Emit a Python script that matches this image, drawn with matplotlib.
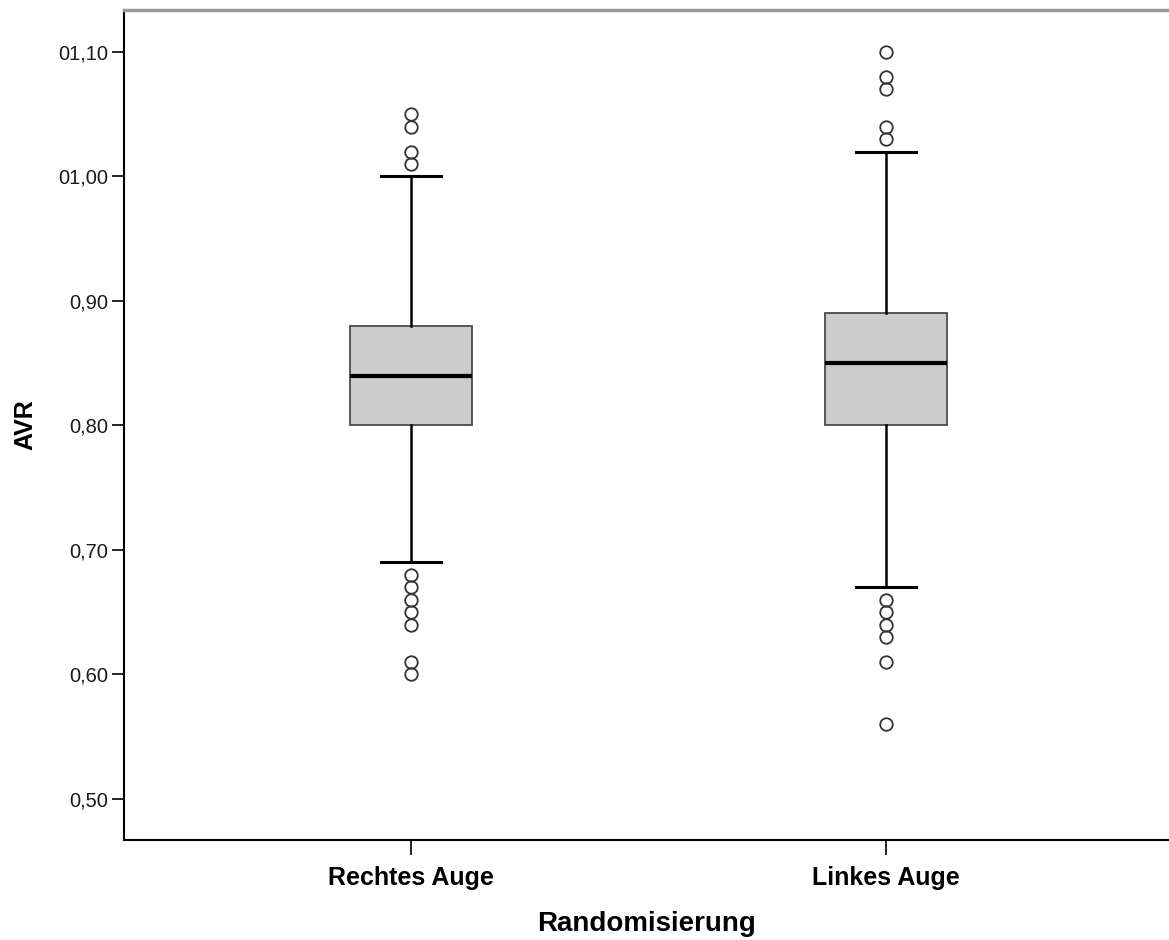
import matplotlib.pyplot as plt

plt.rcParams['font.family'] = ['Liberation Sans', 'DejaVu Sans']

# data
groups = ['Rechtes Auge', 'Linkes Auge']
q1 = [0.80, 0.80]
med = [0.84, 0.85]
q3 = [0.88, 0.89]
whislo = [0.69, 0.67]
whishi = [1.00, 1.02]
fliers = [
    [1.05, 1.04, 1.02, 1.01, 0.68, 0.67, 0.66, 0.65, 0.64, 0.61, 0.60],
    [1.10, 1.08, 1.07, 1.04, 1.03, 0.66, 0.65, 0.64, 0.63, 0.61, 0.56],
]
yticks = [0.50, 0.60, 0.70, 0.80, 0.90, 1.00, 1.10]
ytick_labels = ['0,50', '0,60', '0,70', '0,80', '0,90', '01,00', '01,10']

stats = []
for i in range(len(groups)):
    stats.append(dict(label=groups[i], q1=q1[i], med=med[i], q3=q3[i],
                      whislo=whislo[i], whishi=whishi[i], fliers=fliers[i]))

fig = plt.figure(figsize=(11.69, 9.4), dpi=100)
ax = fig.add_axes([124 / 1169, 100 / 940, 1045 / 1169, 830 / 940])

ax.bxp(stats, positions=[1, 2], widths=0.257, patch_artist=True,
       boxprops=dict(facecolor='#cccccc', edgecolor='#4a4a4a', linewidth=1.3),
       medianprops=dict(color='black', linewidth=3.0),
       whiskerprops=dict(color='black', linewidth=1.8),
       capprops=dict(color='black', linewidth=2.2),
       capwidths=0.126,
       flierprops=dict(marker='o', markerfacecolor='none', markeredgecolor='#333333',
                       markersize=9, markeredgewidth=1.3))

ax.set_xlim(0.395, 2.597)
ax.set_ylim(0.467, 1.1337)
ax.set_yticks(yticks)
ax.set_yticklabels(ytick_labels, fontsize=14.5)
ax.set_xticks([1, 2])
ax.set_xticklabels(groups, fontsize=18, fontweight='bold')

ax.tick_params(axis='y', length=8.5, width=1.2, pad=3, colors='black', labelcolor='#1a1a1a')
ax.tick_params(axis='x', length=11, width=1.2, pad=8)

for s in ['left', 'bottom']:
    ax.spines[s].set_linewidth(1.5)
    ax.spines[s].set_color('black')
ax.spines['right'].set_visible(False)
ax.spines['top'].set_color('#999999')
ax.spines['top'].set_linewidth(2.5)

ax.set_ylabel('AVR', fontsize=18, fontweight='bold')
ax.yaxis.set_label_coords(-0.0833, 0.5)
ax.set_xlabel('Randomisierung', fontsize=20, fontweight='bold')
ax.xaxis.set_label_coords(0.5, -0.0855)

fig.savefig('out.png', dpi=100)
